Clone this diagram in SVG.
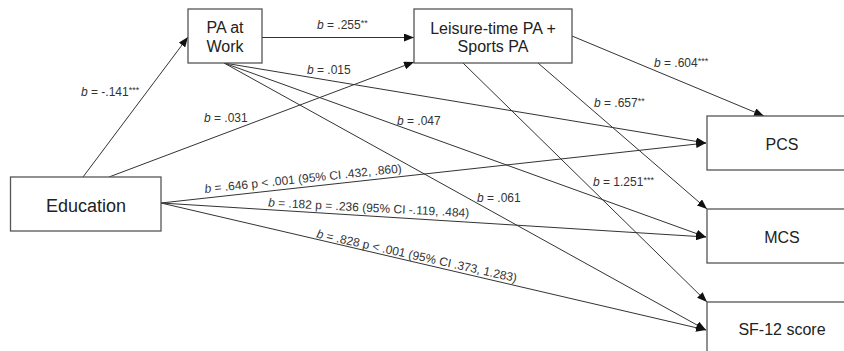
<svg xmlns="http://www.w3.org/2000/svg" width="844" height="351" viewBox="0 0 844 351">
  <style>
    .box { fill: #fff; stroke: #555; stroke-width: 1.3; }
    .node-text { font-family: "Liberation Sans", Arial, sans-serif; font-size: 16px; fill: #222; text-anchor: middle; }
    .edge { fill: none; stroke: #333; stroke-width: 1; marker-end: url(#arrow); }
    .label { font-family: "Liberation Sans", Arial, sans-serif; font-size: 12px; fill: #333; }
    .it { font-style: italic; }
    .sup { font-size: 9px; }
  </style>
  <defs>
    <marker id="arrow" viewBox="0 0 10 8" refX="10" refY="4" markerWidth="10" markerHeight="8" markerUnits="userSpaceOnUse" orient="auto">
      <path d="M0,0 L10,4 L0,8 Z" fill="#111"/>
    </marker>
  </defs>

  <rect width="844" height="351" fill="#fff"/>

  <!-- Connectors -->
  <g id="connectors">
    <line class="edge" x1="83" y1="177" x2="188" y2="37"/>
    <line class="edge" x1="109" y1="177" x2="414" y2="62"/>
    <line class="edge" x1="262" y1="37.5" x2="414" y2="37.5"/>
    <line class="edge" x1="224" y1="63" x2="706" y2="143"/>
    <line class="edge" x1="224" y1="63" x2="706" y2="237"/>
    <line class="edge" x1="224" y1="63" x2="706" y2="330"/>
    <line class="edge" x1="572" y1="36" x2="764" y2="116"/>
    <line class="edge" x1="538" y1="63" x2="707" y2="209"/>
    <line class="edge" x1="463" y1="63" x2="707" y2="302"/>
    <line class="edge" x1="161" y1="203" x2="706" y2="143"/>
    <line class="edge" x1="161" y1="203" x2="706" y2="237"/>
    <line class="edge" x1="161" y1="203" x2="706" y2="330"/>
  </g>

  <!-- Path coefficients -->
  <g id="labels">
    <text class="label" x="81" y="96"><tspan class="it">b</tspan> = -.141<tspan class="sup" dy="-3">***</tspan></text>
    <text class="label" x="317" y="28.5"><tspan class="it">b</tspan> = .255<tspan class="sup" dy="-3">**</tspan></text>
    <text class="label" x="307" y="74"><tspan class="it">b</tspan> = .015</text>
    <text class="label" x="204" y="121.5"><tspan class="it">b</tspan> = .031</text>
    <text class="label" x="397" y="125"><tspan class="it">b</tspan> = .047</text>
    <text class="label" x="654" y="66.5"><tspan class="it">b</tspan> = .604<tspan class="sup" dy="-3">***</tspan></text>
    <text class="label" x="594" y="107"><tspan class="it">b</tspan> = .657<tspan class="sup" dy="-3">**</tspan></text>
    <text class="label" x="593" y="186"><tspan class="it">b</tspan> = 1.251<tspan class="sup" dy="-3">***</tspan></text>
    <text class="label" x="477" y="202"><tspan class="it">b</tspan> = .061</text>
    <text class="label" transform="translate(205,193) rotate(-6)"><tspan class="it">b</tspan> = .646 p &lt; .001 (95% CI .432, .860)</text>
    <text class="label" transform="translate(268,206.5) rotate(3)"><tspan class="it">b</tspan> = .182 p = .236 (95% CI -.119, .484)</text>
    <text class="label" transform="translate(316,237.5) rotate(12.6)"><tspan class="it">b</tspan> = .828 p &lt; .001 (95% CI .373, 1.283)</text>
  </g>

  <!-- Nodes -->
  <g id="education">
    <rect class="box" x="10.5" y="177" width="150.5" height="54"/>
    <text class="node-text" x="86" y="211.5" style="font-size:18px">Education</text>
  </g>
  <g id="pa-work">
    <rect class="box" x="188" y="9" width="74" height="54"/>
    <text class="node-text" x="225" y="33">PA at</text>
    <text class="node-text" x="225" y="52">Work</text>
  </g>
  <g id="leisure-sports">
    <rect class="box" x="414" y="9" width="158" height="54"/>
    <text class="node-text" x="493" y="33.5">Leisure-time PA +</text>
    <text class="node-text" x="493" y="51.5">Sports PA</text>
  </g>
  <g id="pcs">
    <rect class="box" x="707" y="116" width="150" height="54"/>
    <text class="node-text" x="782" y="150">PCS</text>
  </g>
  <g id="mcs">
    <rect class="box" x="707" y="209" width="150" height="54"/>
    <text class="node-text" x="782" y="243">MCS</text>
  </g>
  <g id="sf12">
    <rect class="box" x="707" y="302" width="150" height="54"/>
    <text class="node-text" x="782" y="335">SF-12 score</text>
  </g>
</svg>
